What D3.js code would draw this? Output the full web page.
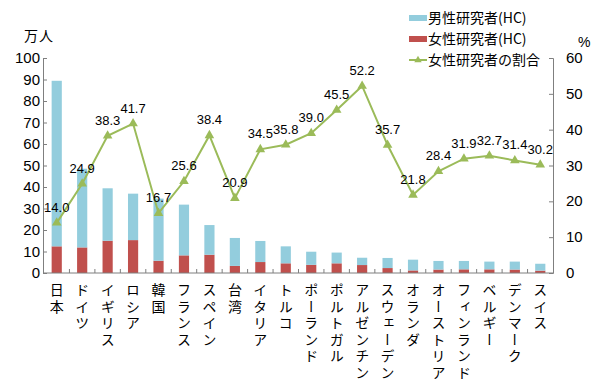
<!DOCTYPE html>
<html>
<head>
<meta charset="utf-8">
<script src="https://cdn.jsdelivr.net/npm/d3@7"></script>
<style>
  body { margin: 0; background: #fff; }
  svg text { font-family: "Liberation Sans", Arial, sans-serif; fill: #000; }
  .jp { font-family: "Noto Sans CJK JP", sans-serif; }
</style>
</head>
<body>
<div id="chart"></div>
<script>
var countries = ["日本", "ドイツ", "イギリス", "ロシア", "韓国", "フランス", "スペイン", "台湾", "イタリア", "トルコ",
  "ポーランド", "ポルトガル", "アルゼンチン", "スウェーデン", "オランダ", "オーストリア", "フィンランド", "ベルギー", "デンマーク", "スイス"];
var totalHC = [89.4, 48.5, 39.4, 36.9, 34.6, 31.8, 22.3, 16.3, 14.9, 12.4, 9.9, 9.5, 7.1, 7.0, 6.2, 5.6, 5.6, 5.3, 5.3, 4.3];
var femaleHC = [12.4, 11.9, 15.0, 15.3, 5.7, 8.2, 8.5, 3.3, 5.1, 4.5, 3.8, 4.5, 3.7, 2.3, 1.2, 1.6, 1.7, 1.7, 1.6, 1.1];
var maleHC = totalHC.map((t, i) => t - femaleHC[i]);
var femaleShare = [14.0, 24.9, 38.3, 41.7, 16.7, 25.6, 38.4, 20.9, 34.5, 35.8, 39.0, 45.5, 52.2, 35.7, 21.8, 28.4, 31.9, 32.7, 31.4, 30.2];
var leftTicks = [0, 10, 20, 30, 40, 50, 60, 70, 80, 90, 100];
var rightTicks = [0, 10, 20, 30, 40, 50, 60];
var legendNames = ["男性研究者(HC)", "女性研究者(HC)", "女性研究者の割合"];

var W = 600, H = 391;
var colMale = "#93cddd", colFemale = "#c0504d", colLine = "#9bbb59", colAxis = "#7f7f7f";

var svg = d3.select("#chart").append("svg").attr("width", W).attr("height", H);

var x = d3.scaleBand().domain(countries).range([44, 553]).paddingInner(0.6).paddingOuter(0.3);
var xc = d => x(d) + x.bandwidth() / 2;
var yL = d3.scaleLinear().domain([0, 100]).range([273, 58]);
var yR = d3.scaleLinear().domain([0, 60]).range([273, 58]);

// bars (male stacked on female)
var stackData = countries.map((c, i) => ({ c: c, f: femaleHC[i], m: maleHC[i] }));
var series = d3.stack().keys(["f", "m"])(stackData);
svg.append("g").selectAll("g").data(series).join("g")
  .attr("fill", d => d.key == "f" ? colFemale : colMale)
  .selectAll("rect").data(d => d).join("rect")
  .attr("x", d => x(d.data.c))
  .attr("width", x.bandwidth())
  .attr("y", d => yL(d[1]))
  .attr("height", d => yL(d[0]) - yL(d[1]));

// axes
var axL = svg.append("g").attr("transform", "translate(43,0)")
  .call(d3.axisRight(yL).tickValues(leftTicks).tickSize(4).tickFormat(""));
axL.selectAll("line,path").attr("stroke", colAxis);
svg.append("g").selectAll("text").data(leftTicks).join("text")
  .attr("x", 40).attr("y", d => yL(d) + 5)
  .attr("text-anchor", "end").attr("font-size", 15).text(d => d);

var axR = svg.append("g").attr("transform", "translate(553,0)")
  .call(d3.axisLeft(yR).tickValues(rightTicks).tickSize(4).tickFormat(""));
axR.selectAll("line,path").attr("stroke", colAxis);
svg.append("g").selectAll("text").data(rightTicks).join("text")
  .attr("x", 566).attr("y", d => yR(d) + 5)
  .attr("text-anchor", "start").attr("font-size", 15).text(d => d);

var bounds = d3.range(countries.length + 1).map(i => 44 + i * x.step() - x.step() * x.paddingInner() + x.step() * x.paddingInner());
var axB = svg.append("g").attr("transform", "translate(0,273)");
axB.append("line").attr("x1", 43).attr("x2", 553).attr("stroke", colAxis);
axB.selectAll("line.t").data(countries.slice(1)).join("line").attr("class", "t")
  .attr("x1", d => x(d) - x.step() * x.paddingInner() / 2).attr("x2", d => x(d) - x.step() * x.paddingInner() / 2)
  .attr("y1", 0).attr("y2", -4).attr("stroke", colAxis);

// category labels, vertical
svg.append("g").selectAll("text").data(countries).join("text")
  .attr("class", "jp")
  .attr("x", d => xc(d)).attr("y", 283)
  .attr("font-size", 14)
  .attr("style", "writing-mode: vertical-rl; letter-spacing: 2.5px")
  .text(d => d);

// line
svg.append("path").datum(femaleShare)
  .attr("fill", "none").attr("stroke", colLine).attr("stroke-width", 2)
  .attr("d", d3.line().x((d, i) => xc(countries[i])).y(d => yR(d)));
var tri = d3.symbol().type(d3.symbolTriangle).size(40);
svg.append("g").selectAll("path").data(femaleShare).join("path")
  .attr("d", tri).attr("fill", colLine)
  .attr("transform", (d, i) => "translate(" + xc(countries[i]) + "," + yR(d) + ")");
svg.append("g").selectAll("text").data(femaleShare).join("text")
  .attr("x", (d, i) => xc(countries[i])).attr("y", d => yR(d) - 11)
  .attr("text-anchor", "middle").attr("font-size", 13)
  .text(d => d.toFixed(1));

// unit labels
svg.append("text").attr("class", "jp").attr("x", 24).attr("y", 41).attr("font-size", 14)
  .attr("letter-spacing", 1).text("万人");
svg.append("text").attr("x", 578).attr("y", 47).attr("font-size", 14).text("%");

// legend
var lg = svg.append("g").selectAll("g").data(legendNames).join("g")
  .attr("transform", (d, i) => "translate(409," + (18 + i * 21) + ")");
lg.filter((d, i) => i < 2).append("rect")
  .attr("x", 0).attr("y", -3).attr("width", 18).attr("height", 6)
  .attr("fill", (d, i) => i == 0 ? colMale : colFemale);
var lgLine = lg.filter((d, i) => i == 2);
lgLine.append("line").attr("x1", 0).attr("x2", 18).attr("stroke", colLine).attr("stroke-width", 2);
lgLine.append("path").attr("d", d3.symbol().type(d3.symbolTriangle).size(24)).attr("fill", colLine)
  .attr("transform", "translate(9,0)");
lg.append("text").attr("class", "jp").attr("x", 19).attr("y", 5).attr("font-size", 14).text(d => d);
</script>
</body>
</html>
